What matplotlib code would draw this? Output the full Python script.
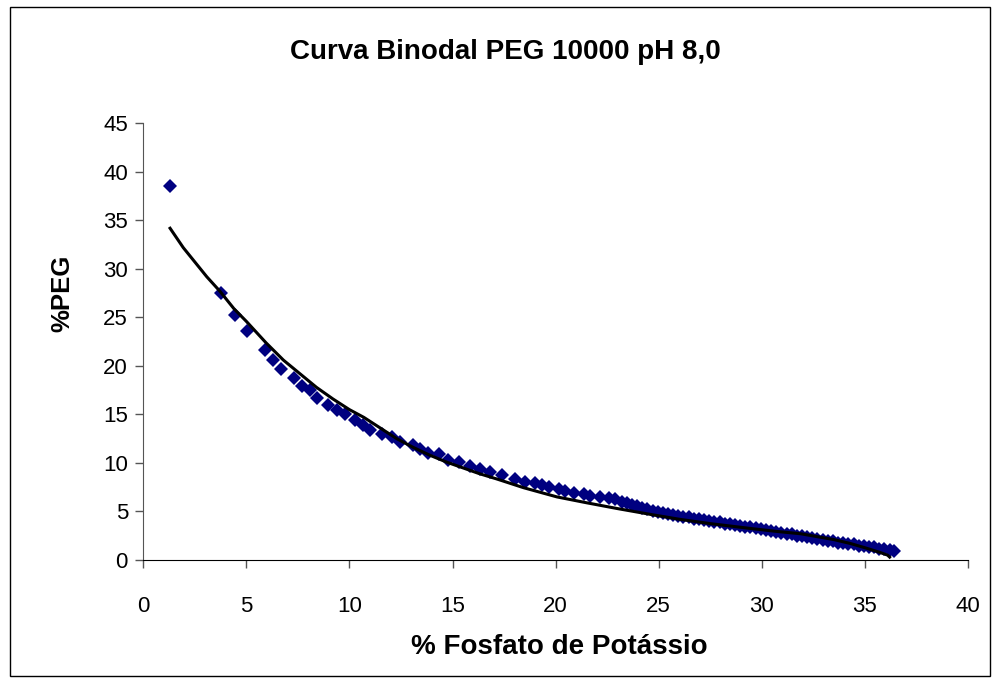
#!/usr/bin/env python3
# -*- coding: utf-8 -*-
"""Curva binodal PEG 10000 pH 8,0 - pontos experimentais e curva ajustada"""

import matplotlib
matplotlib.use("Agg")
import matplotlib.pyplot as plt
from matplotlib.patches import Rectangle

plt.rcParams['font.family'] = ['Liberation Sans', 'DejaVu Sans']

# pontos experimentais (% fosfato, % PEG)
fosfato = [1.3, 3.77, 4.45, 5.02, 5.91, 6.31, 6.68, 7.33, 7.69, 8.09, 8.42, 8.98,
           9.39, 9.79, 10.28, 10.68, 11.0, 11.57, 12.06, 12.46, 13.1, 13.43, 13.83,
           14.32, 14.8, 15.3, 15.86, 16.34, 16.83, 17.4, 18.04, 18.53, 19.0, 19.34,
           19.66, 20.15, 20.47, 20.87, 21.36, 21.68, 22.17, 22.57, 22.9,
           23.2, 23.45, 23.7, 23.95, 24.2, 24.45, 24.7, 24.95, 25.2, 25.45, 25.7,
           25.95, 26.2, 26.45, 26.7, 26.95, 27.2, 27.45, 27.7, 27.95, 28.2, 28.45,
           28.7, 28.95, 29.2, 29.45, 29.7, 29.95, 30.2, 30.45, 30.7, 30.95, 31.2,
           31.45, 31.7, 31.95, 32.2, 32.45, 32.7, 32.95, 33.2, 33.45, 33.7, 33.95,
           34.2, 34.45, 34.7, 34.95, 35.2, 35.45, 35.7, 35.95, 36.2, 36.4]
peg = [38.6, 27.5, 25.3, 23.6, 21.6, 20.6, 19.7, 18.8, 17.9, 17.5, 16.7, 16.0,
       15.5, 15.0, 14.4, 13.9, 13.4, 13.0, 12.65, 12.2, 11.85, 11.4, 11.0,
       10.9, 10.3, 10.1, 9.7, 9.35, 9.1, 8.76, 8.3, 8.07, 7.9, 7.73,
       7.56, 7.29, 7.14, 6.94, 6.8, 6.63, 6.46, 6.36, 6.26,
       6.0, 5.9, 5.7, 5.6, 5.35, 5.25, 5.0, 4.95, 4.8, 4.75, 4.6,
       4.55, 4.45, 4.4, 4.25, 4.2, 4.1, 4.05, 3.95, 3.9, 3.75, 3.75,
       3.6, 3.55, 3.4, 3.4, 3.25, 3.2, 3.05, 3.0, 2.85, 2.8, 2.7,
       2.65, 2.5, 2.45, 2.35, 2.3, 2.15, 2.1, 2.0, 1.95, 1.8, 1.75,
       1.6, 1.6, 1.45, 1.45, 1.3, 1.3, 1.15, 1.1, 1.0, 0.9]

# curva ajustada
ajuste_x = [1.3, 1.94, 2.7, 3.08, 3.72, 4.4, 5.0, 5.95, 6.8, 7.6, 8.4, 9.2, 10.0,
            10.7, 11.5, 12.3, 13.1, 13.9, 14.7, 15.5, 16.3, 17.15, 18.45, 20.07,
            21.5, 23.0, 24.6, 26.0, 27.5, 29.45, 30.7, 31.9, 33.5, 34.3, 35.1,
            35.7, 36.1, 36.2]
ajuste_y = [34.2, 32.2, 30.2, 29.2, 27.7, 25.9, 24.6, 22.4, 20.6, 19.2, 17.8, 16.6,
            15.5, 14.7, 13.6, 12.5, 11.6, 10.8, 10.1, 9.5, 8.9, 8.35, 7.45, 6.5,
            5.9, 5.3, 4.7, 4.2, 3.75, 3.25, 2.95, 2.7, 2.1, 1.7, 1.2,
            0.8, 0.5, 0.3]

xticks = [0, 5, 10, 15, 20, 25, 30, 35, 40]
yticks = [0, 5, 10, 15, 20, 25, 30, 35, 40, 45]

fig = plt.figure(figsize=(9.97, 6.83), dpi=100)
ax = fig.add_axes([0.1437, 0.1801, 0.8272, 0.6391])

ax.plot(fosfato, peg, linestyle='none', marker='D', markersize=7,
        color='#000080', markeredgewidth=0, zorder=2)
ax.plot(ajuste_x, ajuste_y, color='black', linewidth=2.2, zorder=3)

ax.set_xlim(0, 40)
ax.set_ylim(0, 45)
ax.set_xticks(xticks)
ax.set_yticks(yticks)

for lado in ['top', 'right']:
    ax.spines[lado].set_visible(False)
ax.spines['left'].set_color('#555555')
ax.spines['bottom'].set_color('black')
ax.tick_params(axis='x', direction='out', length=6, width=1, color='#555555',
               labelsize=16, pad=20)
ax.tick_params(axis='y', direction='out', length=6, width=1, color='#555555',
               labelsize=16, pad=5)

fig.text(0.507, 0.924, 'Curva Binodal PEG 10000 pH 8,0', ha='center', va='center',
         fontsize=20, fontweight='bold')
fig.text(0.561, 0.0527, '% Fosfato de Potássio', ha='center', va='center',
         fontsize=20, fontweight='bold')
fig.text(0.063, 0.57, '%PEG', ha='center', va='center', rotation=90,
         fontsize=18.5, fontweight='bold')

# moldura da figura
fig.patches.append(Rectangle((0.010, 0.010), 0.983, 0.980, transform=fig.transFigure,
                             fill=False, edgecolor='black', linewidth=1))

fig.savefig('out.png', dpi=100)
